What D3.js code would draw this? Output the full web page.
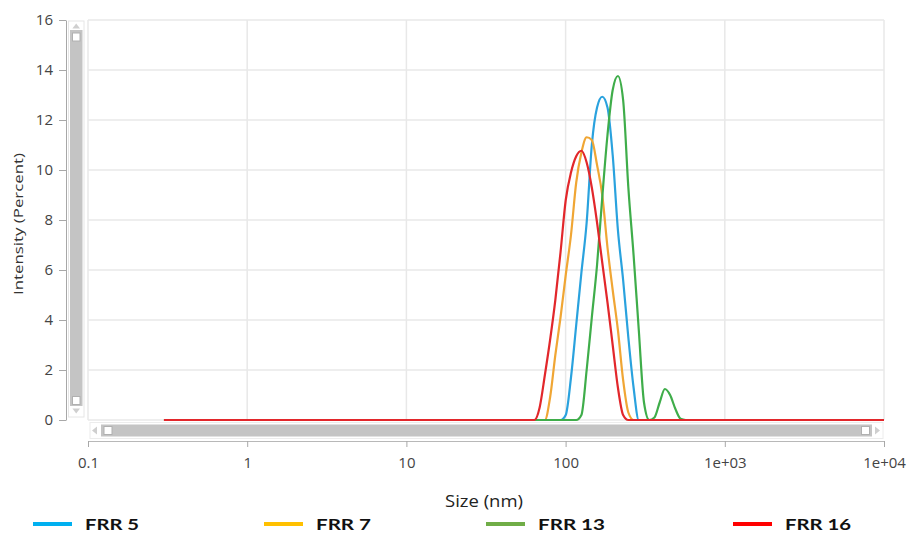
<!DOCTYPE html>
<html>
<head>
<meta charset="utf-8">
<script src="https://cdn.jsdelivr.net/npm/d3@7"></script>
<style>
  html, body { margin: 0; padding: 0; background: #ffffff; }
  svg { display: block; font-family: "Open Sans", "Noto Sans", sans-serif; }
</style>
</head>
<body>
<svg id="chart" width="911" height="533"></svg>
<script>
// Size distribution by intensity for four flow-rate ratios
const seriesNames = ["FRR 5", "FRR 7", "FRR 13", "FRR 16"];

// size classes (nm), shared by every series
const sizeClasses = [0.3,
  59.1, 63.7, 68.7, 74.1, 79.9, 86.2, 92.9, 100.2, 108.1, 116.6,
  125.7, 135.6, 146.1, 157.6, 169.9, 183.3, 197.6, 213.1, 229.8, 247.8,
  267.3, 288.2, 310.8, 335.2, 361.4, 389.8, 420.3, 453.3, 488.8, 527.1,
  568.4, 10000];

// intensity (%) in each size class
const frr5Intensity = [0,
  0, 0, 0, 0, 0, 0, 0, 0.2, 1.7, 3.8,
  5.9, 7.9, 11.0, 12.5, 12.93, 12.5, 10.6, 7.6, 5.6, 3.3,
  1.3, 0, 0, 0, 0, 0, 0, 0, 0, 0,
  0, 0];

const frr7Intensity = [0,
  0, 0, 0, 0, 0.9, 2.6, 4.1, 5.8, 7.4, 9.5,
  10.7, 11.31, 11.2, 10.2, 9.0, 6.9, 5.2, 3.6, 1.6, 0.3,
  0, 0, 0, 0, 0, 0, 0, 0, 0, 0,
  0, 0];

const frr13Intensity = [0,
  0, 0, 0, 0, 0, 0, 0, 0, 0, 0,
  0.2, 2.0, 4.1, 6.2, 8.9, 11.4, 13.2, 13.76, 12.8, 9.3,
  6.6, 3.6, 0.7, 0, 0.1, 0.7, 1.24, 1.0, 0.45, 0.05,
  0, 0];

const frr16Intensity = [0,
  0, 0, 0.5, 1.8, 3.2, 4.8, 6.7, 8.8, 9.9, 10.55,
  10.77, 10.3, 9.3, 7.9, 6.3, 4.7, 3.0, 1.3, 0.2, 0,
  0, 0, 0, 0, 0, 0, 0, 0, 0, 0,
  0, 0];

const xTickValues = [0.1, 1, 10, 100, 1000, 10000];
const xTickLabels = ["0.1", "1", "10", "100", "1e+03", "1e+04"];
const yTickValues = [0, 2, 4, 6, 8, 10, 12, 14, 16];

const lineColors = ["#2aa2de", "#f0a634", "#3fad4a", "#e2272b"];
const legendColors = ["#00b0f0", "#ffc000", "#70ad47", "#ff0000"];

const series = [frr5Intensity, frr7Intensity, frr13Intensity, frr16Intensity]
  .map((vals, i) => ({
    name: seriesNames[i],
    color: lineColors[i],
    legend: legendColors[i],
    points: sizeClasses.map((s, j) => ({ size: s, value: vals[j] }))
  }));

const svg = d3.select("#chart");
const plot = { left: 88, right: 884, top: 20, bottom: 420 };

const x = d3.scaleLog().domain([0.1, 10000]).range([plot.left, plot.right]);
const y = d3.scaleLinear().domain([0, 16]).range([plot.bottom, plot.top]);

// grid
const grid = svg.append("g");
grid.selectAll("line.h").data(yTickValues).join("line")
  .attr("x1", plot.left).attr("x2", plot.right)
  .attr("y1", d => y(d)).attr("y2", d => y(d))
  .attr("stroke", "#e8e8e8").attr("stroke-width", 1.5);
grid.selectAll("line.v").data(xTickValues).join("line")
  .attr("x1", d => x(d)).attr("x2", d => x(d))
  .attr("y1", plot.top).attr("y2", plot.bottom)
  .attr("stroke", "#e8e8e8").attr("stroke-width", 1.5);

// y axis
const yAxis = svg.append("g")
  .attr("transform", "translate(66,0)")
  .call(d3.axisLeft(y).tickValues(yTickValues).tickSize(7).tickSizeOuter(0).tickPadding(6));
yAxis.select(".domain").attr("stroke", "#a8a8a8");
yAxis.selectAll(".tick line").attr("stroke", "#a8a8a8");
yAxis.selectAll(".tick text")
  .attr("fill", "#444").attr("font-size", 15)
  .attr("font-family", "'Open Sans', sans-serif");

// x axis
const xAxis = svg.append("g")
  .attr("transform", "translate(0,441)")
  .call(d3.axisBottom(x).tickValues(xTickValues)
    .tickFormat((d, i) => xTickLabels[i]).tickSize(6).tickSizeOuter(0).tickPadding(10));
xAxis.select(".domain").attr("stroke", "#b8b8b8");
xAxis.selectAll(".tick line").attr("stroke", "#a8a8a8");
xAxis.selectAll(".tick text")
  .attr("fill", "#444").attr("font-size", 15)
  .attr("font-family", "'Open Sans', sans-serif");

// scroll bars
const sb = svg.append("g");
sb.append("rect").attr("x", 68.5).attr("y", 21).attr("width", 15.5).attr("height", 396)
  .attr("fill", "none").attr("stroke", "#e6e6e6");
sb.append("rect").attr("x", 70).attr("y", 30).attr("width", 12.5).attr("height", 376)
  .attr("fill", "#c4c4c4");
sb.append("path").attr("d", "M76.2,23.5 L80,28.5 L72.4,28.5 Z").attr("fill", "#cfcfcf");
sb.append("path").attr("d", "M76.2,413.5 L80,408.5 L72.4,408.5 Z").attr("fill", "#cfcfcf");
sb.append("rect").attr("x", 72.5).attr("y", 33).attr("width", 7.5).attr("height", 8)
  .attr("fill", "#fff").attr("stroke", "#b0b0b0").attr("stroke-width", 1);
sb.append("rect").attr("x", 72.5).attr("y", 396.5).attr("width", 7.5).attr("height", 8)
  .attr("fill", "#fff").attr("stroke", "#b0b0b0").attr("stroke-width", 1);

sb.append("rect").attr("x", 90).attr("y", 422.5).attr("width", 793).attr("height", 16)
  .attr("fill", "none").attr("stroke", "#ececec");
sb.append("rect").attr("x", 101).attr("y", 424.5).attr("width", 771).attr("height", 12)
  .attr("fill", "#c4c4c4");
sb.append("path").attr("d", "M92,430.5 L97,426.5 L97,434.5 Z").attr("fill", "#cfcfcf");
sb.append("path").attr("d", "M880,430.5 L875,426.5 L875,434.5 Z").attr("fill", "#cfcfcf");
sb.append("rect").attr("x", 104).attr("y", 426.5).attr("width", 8).attr("height", 8)
  .attr("fill", "#fff").attr("stroke", "#b0b0b0");
sb.append("rect").attr("x", 861.5).attr("y", 426.5).attr("width", 8).attr("height", 8)
  .attr("fill", "#fff").attr("stroke", "#b0b0b0");

// distribution curves
const line = d3.line()
  .x(d => x(d.size))
  .y(d => y(d.value))
  .curve(d3.curveMonotoneX);

svg.append("g").selectAll("path").data(series).join("path")
  .attr("d", d => line(d.points))
  .attr("fill", "none")
  .attr("stroke", d => d.color)
  .attr("stroke-width", 2.2)
  .attr("stroke-linejoin", "round");

// axis titles
svg.append("text")
  .attr("transform", "translate(23,224) rotate(-90)")
  .attr("text-anchor", "middle")
  .attr("font-size", 13.5)
  .attr("fill", "#333")
  .attr("textLength", 142).attr("lengthAdjust", "spacingAndGlyphs")
  .text("Intensity (Percent)");

svg.append("text")
  .attr("x", 484).attr("y", 507)
  .attr("text-anchor", "middle")
  .attr("font-size", 15.5)
  .attr("fill", "#222")
  .attr("textLength", 78).attr("lengthAdjust", "spacingAndGlyphs")
  .text("Size (nm)");

// legend
const legendX = [33, 264, 486, 733];
const legendTextW = [54, 55, 67, 66];
const legend = svg.append("g").selectAll("g").data(series).join("g")
  .attr("transform", (d, i) => `translate(${legendX[i]},524)`);
legend.append("line")
  .attr("x1", 0).attr("x2", 39).attr("y1", 0).attr("y2", 0)
  .attr("stroke", d => d.legend).attr("stroke-width", 4);
legend.append("text")
  .attr("x", 52).attr("y", 6)
  .attr("font-family", "Lato, 'Open Sans', sans-serif")
  .attr("font-weight", "bold")
  .attr("font-size", 16)
  .attr("fill", "#111")
  .attr("textLength", (d, i) => legendTextW[i]).attr("lengthAdjust", "spacingAndGlyphs")
  .text(d => d.name);
</script>
</body>
</html>
